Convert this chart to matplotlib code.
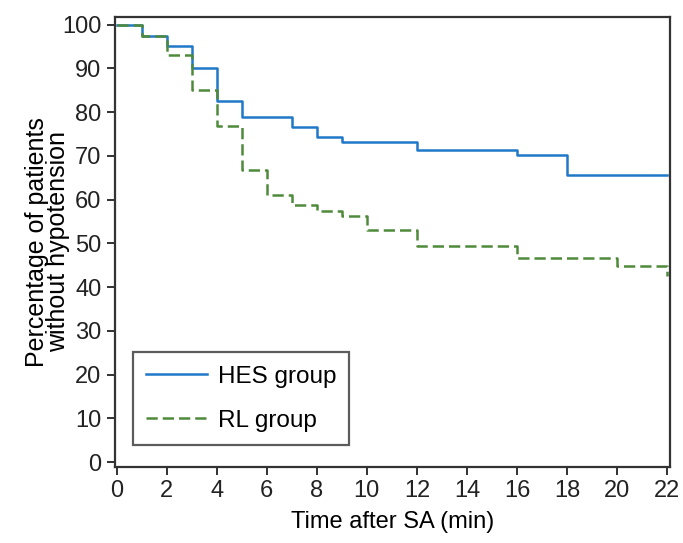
import matplotlib.pyplot as plt
import matplotlib.font_manager as fm

# Kaplan-Meier style curves
hes_time = [0, 1, 2, 3, 4, 5, 7, 8, 9, 12, 16, 18, 22]
hes_pct = [100, 97.5, 95.2, 90.1, 82.6, 78.9, 76.6, 74.3, 73.1, 71.4, 70.3, 65.6, 65.6]

rl_time = [0, 1, 2, 3, 4, 5, 6, 7, 8, 9, 10, 12, 16, 20, 22]
rl_pct = [100, 97.5, 93.0, 85.0, 76.9, 66.9, 61.1, 58.7, 57.5, 56.3, 53.0, 49.4, 46.6, 44.9, 42.6]

x_ticks = list(range(0, 23, 2))
y_ticks = list(range(0, 101, 10))

names = {f.name for f in fm.fontManager.ttflist}
fam = 'Liberation Sans Narrow' if 'Liberation Sans Narrow' in names else 'Liberation Sans'
plt.rcParams['font.family'] = [fam, 'DejaVu Sans']

fig = plt.figure(figsize=(6.83, 5.43), dpi=100)
ax = fig.add_axes([0.168, 0.140, 0.813, 0.829])

ax.step(hes_time, hes_pct, where='post', color='#1f78c8', lw=1.8, label='HES group')
ax.step(rl_time, rl_pct, where='post', color='#4f8a3a', lw=1.8, ls=(0, (4.5, 2)), label='RL group')

ax.set_xlim(-0.08, 22.12)
ax.set_ylim(-1.1, 101.8)
ax.set_xticks(x_ticks)
ax.set_yticks(y_ticks)
ax.tick_params(direction='out', length=6, width=1.3, labelsize=17, colors='#222222')
for s in ax.spines.values():
    s.set_linewidth(1.6)
    s.set_color('#333333')

ax.set_xlabel('Time after SA (min)', fontsize=17, labelpad=6)
ax.set_ylabel('Percentage of patients\nwithout hypotension', fontsize=18, linespacing=0.85, labelpad=-6)

leg = ax.legend(loc='lower left', bbox_to_anchor=(0.032, 0.049), borderaxespad=0, fontsize=17.5,
                frameon=True, fancybox=False, edgecolor='#333333', handlelength=2.5, borderpad=0.55,
                labelspacing=0.9, handletextpad=0.45)
leg.get_frame().set_linewidth(1.6)

fig.savefig('out.png', dpi=100)
